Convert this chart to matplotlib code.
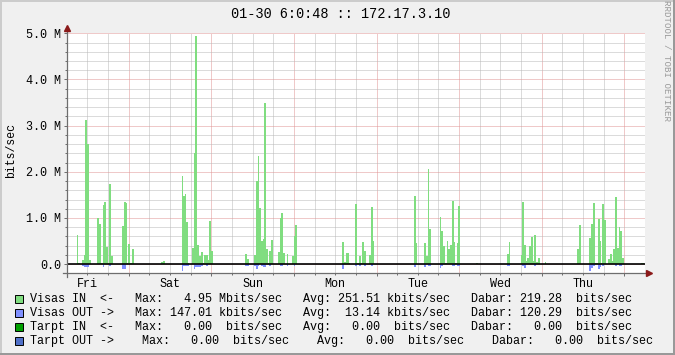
import matplotlib
matplotlib.use("Agg")
import matplotlib.pyplot as plt
from matplotlib.lines import Line2D
from matplotlib.patches import Rectangle


# hours since Fri 06:00, Mbits/sec (each value holds until the next time)
IN_HOURS = [0, 2.99, 3.19, 3.77, 4.44, 5.12, 5.41, 5.9, 6.38, 7.06,
            8.8, 9.38, 9.97, 10.55, 10.74, 11.32, 11.9, 12.29, 12.77, 13.36,
            16.07, 16.55, 17.13, 17.52, 17.81, 18.39, 18.88, 19.46,
            27.4, 27.98, 28.56,
            33.5, 33.69, 34.27, 34.76, 35.24, 35.53, 36.4, 36.89, 37.18, 37.86,
            38.44, 39.12, 39.6, 39.89, 40.47, 41.05, 41.44, 42.02, 42.5,
            51.8, 52.28, 52.86,
            54.41, 54.99, 55.47, 55.96, 56.44, 56.92, 57.31, 57.8, 58.38, 58.67, 59.35, 59.93,
            61.38, 62.06, 62.35, 62.83, 63.41, 63.9, 64.19,
            65.44, 65.93, 66.31, 66.8,
            80.06, 80.64, 81.22, 82.1, 82.4,
            83.76, 84.34, 84.9, 85.4, 85.8, 86.4, 87.0, 87.8, 88.4, 89.0, 89.3,
            100.9, 101.5, 101.8,
            103.8, 104.4, 105.0, 105.3, 105.9,
            108.35, 108.6, 109.2, 109.8, 110.4, 110.8, 111.4, 112.0, 112.5, 112.8,
            113.4, 113.7, 114.3,
            118.9, 119.6,
            127.9, 128.5, 128.8,
            131.9, 132.3, 132.9, 133.4, 133.7, 134.3, 134.9, 135.4, 135.8, 136.3, 136.8, 137.5,
            138.9, 139.2,
            148.3, 148.8, 149.4,
            151.7, 152.3, 152.9, 153.5, 154.4, 154.9, 155.2, 155.5, 156.1, 156.7,
            157.3, 157.8, 158.4, 158.7, 159.3, 159.9, 160.4, 160.7, 161.3, 161.9,
            166.7, 167.7, 168]
IN_MBPS = [0, 0.63, 0.02, 0, 0.09, 0.2, 3.12, 2.6, 0.09, 0,
           1.0, 0.87, 0.02, 1.28, 1.35, 0.38, 0.02, 1.73, 0.17, 0,
           0.83, 1.35, 1.33, 0.02, 0.44, 0.02, 0.33, 0,
           0.04, 0.06, 0,
           1.9, 1.48, 1.53, 0.92, 0.02, 0, 0.36, 2.4, 4.95, 0.42,
           0.18, 0.26, 0.02, 0.2, 0.2, 0.09, 0.94, 0.29, 0,
           0.22, 0.12, 0,
           0.19, 1.8, 2.35, 1.21, 0.51, 0.55, 3.48, 0.33, 0.02, 0.29, 0.53, 0,
           0.27, 1.0, 1.1, 0.24, 0, 0.22, 0,
           0.17, 0.6, 0.85, 0,
           0.48, 0.05, 0.25, 0.02, 0,
           1.3, 0.02, 0.18, 0.02, 0.48, 0.29, 0, 0.2, 1.24, 0.5, 0,
           1.47, 0.45, 0,
           0.45, 0.17, 2.06, 0.76, 0,
           1.03, 0.72, 0.4, 0.02, 0.5, 0.33, 0.42, 1.37, 0.48, 0.02,
           0.45, 1.26, 0,
           0.03, 0,
           0.22, 0.48, 0,
           0.19, 1.35, 0.41, 0.07, 0.14, 0.4, 0.58, 0.06, 0.63, 0.04, 0.14, 0,
           0.05, 0,
           0.33, 0.85, 0,
           0.56, 0.87, 1.33, 0.02, 0.98, 0.5, 0.02, 1.3, 0.96, 0.0,
           0.12, 0.22, 0.07, 0.33, 1.45, 0.35, 0.8, 0.72, 0.14, 0,
           0.02, 0, 0]

OUT_HOURS = [0, 4.44, 5.12, 6.38, 10.55, 10.74, 12.29, 12.77, 16.07, 17.13,
             33.5, 33.69, 35.53, 36.89, 37.18, 39.12, 39.6, 40.47, 41.05,
             51.8, 52.86, 54.41, 54.99, 55.47, 55.96, 56.44, 56.92, 57.8, 58.67, 59.35,
             62.06, 62.83, 63.9, 64.19, 65.93, 66.31,
             80.06, 80.64, 83.76, 84.34, 84.9, 85.4, 86.4, 87.0, 88.4, 89.0,
             100.9, 101.5, 103.8, 104.4, 105.0, 105.9, 108.35, 108.6, 109.2,
             112.0, 112.8, 113.4, 114.3,
             127.9, 128.8, 132.3, 132.9, 133.4, 135.8, 136.3,
             151.7, 152.3, 152.9, 153.5, 154.4, 154.9, 155.2, 155.5, 156.1,
             159.3, 159.9, 160.4, 161.3, 168]
OUT_MBPS = [0, -0.035, -0.07, 0, -0.07, 0, -0.03, 0, -0.11, 0,
            -0.14, -0.05, 0, -0.1, -0.065, -0.035, 0, -0.03, 0,
            -0.05, 0, -0.03, -0.11, -0.05, 0, -0.035, -0.07, 0, -0.03, 0,
            -0.03, 0, -0.05, 0, -0.03, 0,
            -0.1, 0, -0.03, 0, -0.05, 0, -0.03, 0, -0.03, 0,
            -0.07, 0, -0.07, 0, -0.05, 0, -0.09, -0.03, 0,
            -0.03, 0, -0.05, 0,
            -0.05, 0, -0.03, -0.09, 0, -0.03, 0,
            -0.14, -0.085, -0.05, 0, -0.11, -0.065, 0, -0.05, 0,
            -0.05, 0, -0.03, 0, 0]

DAYS = ["Fri", "Sat", "Sun", "Mon", "Tue", "Wed", "Thu"]
Y_LABELS = ["0.0", "1.0 M", "2.0 M", "3.0 M", "4.0 M", "5.0 M"]

TITLE = "01-30 6:0:48 :: 172.17.3.10"
LEGEND = [
    ("#80DD80", "Visas IN  <-   Max:   4.95 Mbits/sec   Avg: 251.51 kbits/sec   Dabar: 219.28  bits/sec"),
    ("#8090FF", "Visas OUT ->   Max: 147.01 kbits/sec   Avg:  13.14 kbits/sec   Dabar: 120.29  bits/sec"),
    ("#00A000", "Tarpt IN  <-   Max:   0.00  bits/sec   Avg:   0.00  bits/sec   Dabar:   0.00  bits/sec"),
    ("#5070C8", "Tarpt OUT ->    Max:   0.00  bits/sec    Avg:   0.00  bits/sec    Dabar:   0.00  bits/sec"),
]

MONO = "Liberation Mono"
W, H = 675, 355


def main():
    fig = plt.figure(figsize=(W / 100, H / 100), dpi=100, facecolor="#F0F0F0")
    ax = fig.add_axes([66.7 / W, 1 - 273.4 / H, 578.3 / W, (273.4 - 33.3) / H])
    ax.set_facecolor("white")

    ax.fill_between(IN_HOURS, IN_MBPS, step="post", color=LEGEND[0][0], lw=0)
    ax.fill_between(OUT_HOURS, OUT_MBPS, step="post", color=LEGEND[1][0], lw=0)
    ax.axhline(0, color="black", lw=1.2)

    ax.set_xlim(0, 168)
    ax.set_ylim(-0.2, 5.0)

    major_x = [18 + 24 * i for i in range(7)]
    minor_x = [6 * i for i in range(1, 28) if (6 * i - 18) % 24 != 0]
    minor_lbl = [DAYS[(h - 6) // 24] if (h - 6) % 24 == 0 else "" for h in minor_x]
    ax.set_xticks(major_x, [""] * len(major_x))
    ax.set_xticks(minor_x, minor_lbl, minor=True)

    ax.set_yticks(range(6), Y_LABELS)
    ax.set_yticks([i * 0.2 for i in range(1, 25) if i % 5 != 0], minor=True)

    dot = (0, (1, 1))
    ax.grid(which="major", color="#E09494", ls=dot, lw=0.72)
    ax.grid(which="minor", color="#B8B8B8", ls=dot, lw=0.72)
    ax.set_axisbelow(True)

    for lab in ax.get_xticklabels(minor=True) + ax.get_yticklabels():
        lab.set_fontfamily(MONO)
        lab.set_fontsize(8.5)
    ax.tick_params(which="both", color="#707070", width=0.72, direction="out")
    ax.tick_params(which="major", length=2.2)
    ax.tick_params(which="minor", length=1.5)
    ax.tick_params(axis="y", pad=2.0)
    ax.tick_params(axis="x", which="minor", pad=1.5)

    for s in ax.spines.values():
        s.set_visible(False)
    ax.add_line(Line2D([0, 0], [-0.015, 1.015], transform=ax.transAxes,
                       color="#6E6E6E", lw=0.9, clip_on=False))
    ax.add_line(Line2D([-0.007, 1.004], [0, 0], transform=ax.transAxes,
                       color="#6E6E6E", lw=0.9, clip_on=False))
    ax.plot([0], [1.022], marker="^", ms=4, color="#8B1A1A",
            transform=ax.transAxes, clip_on=False)
    ax.plot([1.007], [0], marker=">", ms=4, color="#8B1A1A",
            transform=ax.transAxes, clip_on=False)

    fig.text(341 / W, 1 - 13.5 / H, TITLE, family=MONO, size=9.8,
             ha="center", va="center")
    fig.text(11 / W, 1 - 150 / H, "bits/sec", family=MONO, size=8.3,
             rotation=90, ha="center", va="center")
    fig.text(666.3 / W, 1 - 61 / H, "RRDTOOL / TOBI OETIKER", family=MONO,
             size=6.6, rotation=270, ha="center", va="center", color="#9A9A9A")

    rows_y = [298.7, 313.0, 327.0, 341.3]
    for (color, text), y in zip(LEGEND, rows_y):
        fig.add_artist(Rectangle((15 / W, 1 - (y + 3.8) / H), 7.7 / W, 7.7 / H,
                                 transform=fig.transFigure, facecolor=color,
                                 edgecolor="black", lw=0.7))
        fig.text(30.3 / W, 1 - y / H, text, family=MONO, size=8.5, va="center")

    # 3d-ish frame
    fig.add_artist(Line2D([0, 1], [1 - 1 / H] * 2, transform=fig.transFigure, color="#CCCCCC", lw=1.44))
    fig.add_artist(Line2D([1 / W] * 2, [0, 1], transform=fig.transFigure, color="#CCCCCC", lw=1.44))
    fig.add_artist(Line2D([0, 1], [1 / H] * 2, transform=fig.transFigure, color="#999999", lw=1.44))
    fig.add_artist(Line2D([1 - 1 / W] * 2, [0, 1], transform=fig.transFigure, color="#999999", lw=1.44))

    fig.savefig("out.png", dpi=100, facecolor=fig.get_facecolor())


if __name__ == "__main__":
    main()
